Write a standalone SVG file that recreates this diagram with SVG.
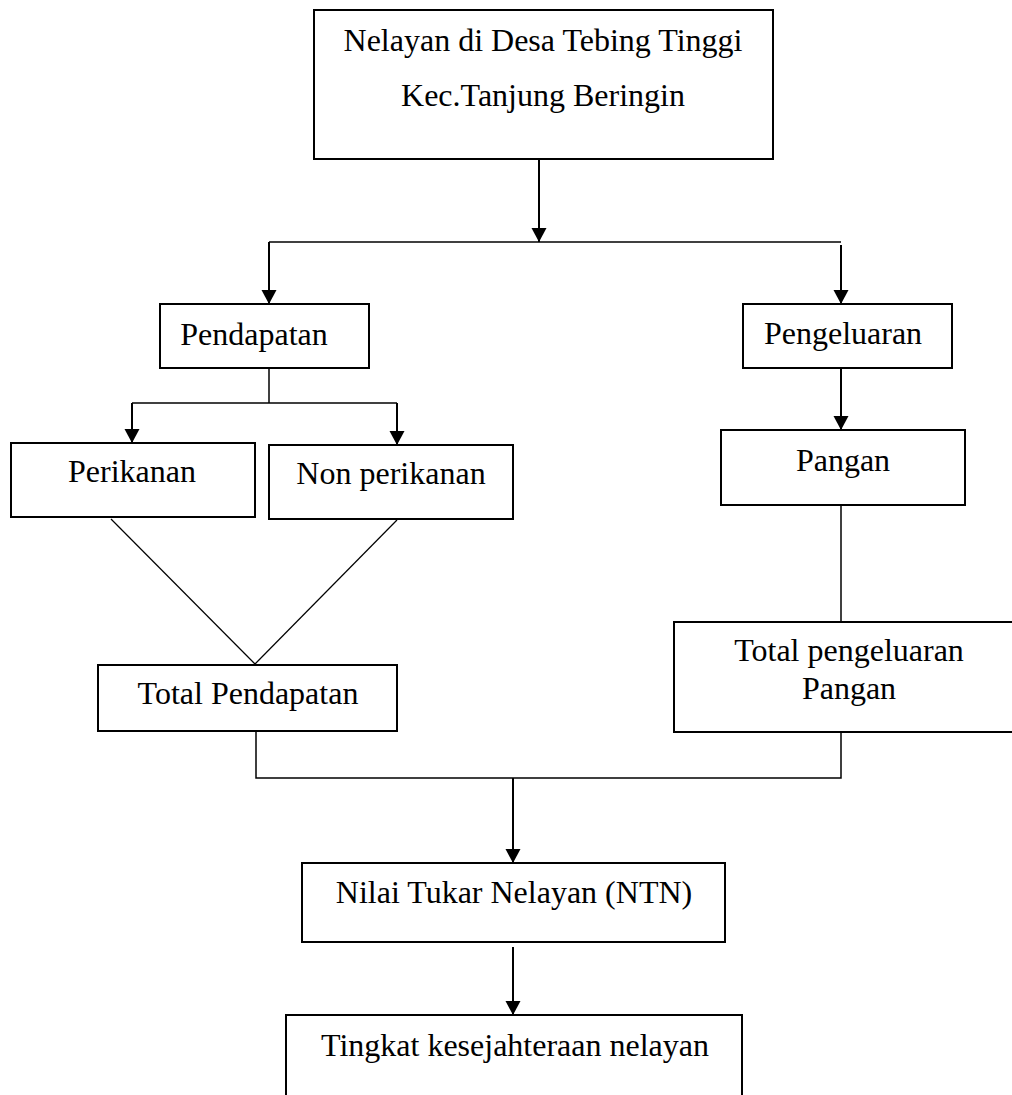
<svg xmlns="http://www.w3.org/2000/svg" width="1012" height="1095" viewBox="0 0 1012 1095">
<style>
.box{fill:#fff;stroke:#000;stroke-width:2}
.t{font-family:"Liberation Serif","Times New Roman",serif;font-size:32px;fill:#000;text-anchor:middle}
.c{fill:none;stroke:#000;stroke-width:1.5}
.a{fill:none;stroke:#000;stroke-width:2}
.d{fill:none;stroke:#000;stroke-width:1.2}
</style>
<defs>
<marker id="ar" markerUnits="userSpaceOnUse" markerWidth="16" markerHeight="16" viewBox="0 0 16 16" refX="14" refY="8" orient="auto">
<path d="M0,0.5 L14,8 L0,15.5 Z" fill="#000"/>
</marker>
</defs>
<rect width="1012" height="1095" fill="#fff"/>
<g id="connectors">
<line class="a" x1="539" y1="159" x2="539" y2="242" marker-end="url(#ar)"/>
<line class="c" x1="269" y1="242" x2="841" y2="242"/>
<line class="a" x1="269" y1="242" x2="269" y2="304" marker-end="url(#ar)"/>
<line class="a" x1="841" y1="245" x2="841" y2="304" marker-end="url(#ar)"/>
<line class="c" x1="269" y1="368" x2="269" y2="403"/>
<line class="c" x1="132" y1="403" x2="397" y2="403"/>
<line class="a" x1="132" y1="403" x2="132" y2="443" marker-end="url(#ar)"/>
<line class="a" x1="397" y1="403" x2="397" y2="445" marker-end="url(#ar)"/>
<line class="a" x1="841" y1="368" x2="841" y2="430" marker-end="url(#ar)"/>
<line class="c" x1="841" y1="505" x2="841" y2="622"/>
<line class="d" x1="111" y1="519" x2="255" y2="664"/>
<line class="d" x1="397" y1="520" x2="255" y2="664"/>
<polyline class="c" points="256,731 256,778 841,778 841,732"/>
<line class="a" x1="513" y1="778" x2="513" y2="863" marker-end="url(#ar)"/>
<line class="a" x1="513" y1="947" x2="513" y2="1015" marker-end="url(#ar)"/>
</g>
<g id="n-nelayan">
<rect class="box" x="314" y="10" width="459" height="149"/>
<text class="t" x="543" y="51">Nelayan di Desa Tebing Tinggi</text>
<text class="t" x="543" y="106">Kec.Tanjung Beringin</text>
</g>
<g id="n-pendapatan">
<rect class="box" x="160" y="304" width="209" height="64"/>
<text class="t" x="254" y="345">Pendapatan</text>
</g>
<g id="n-pengeluaran">
<rect class="box" x="743" y="304" width="209" height="64"/>
<text class="t" x="843" y="344">Pengeluaran</text>
</g>
<g id="n-perikanan">
<rect class="box" x="11" y="443" width="244" height="74"/>
<text class="t" x="132" y="482">Perikanan</text>
</g>
<g id="n-nonperikanan">
<rect class="box" x="269" y="445" width="244" height="74"/>
<text class="t" x="391" y="484">Non perikanan</text>
</g>
<g id="n-pangan">
<rect class="box" x="721" y="430" width="244" height="75"/>
<text class="t" x="843" y="471">Pangan</text>
</g>
<g id="n-totalpendapatan">
<rect class="box" x="98" y="665" width="299" height="66"/>
<text class="t" x="248" y="704">Total Pendapatan</text>
</g>
<g id="n-totalpengeluaran">
<rect class="box" x="674" y="622" width="350" height="110"/>
<text class="t" x="849" y="661">Total pengeluaran</text>
<text class="t" x="849" y="699">Pangan</text>
</g>
<g id="n-ntn">
<rect class="box" x="302" y="863" width="423" height="79"/>
<text class="t" x="514" y="903">Nilai Tukar Nelayan (NTN)</text>
</g>
<g id="n-tingkat">
<rect class="box" x="286" y="1015" width="456" height="100"/>
<text class="t" x="515" y="1056">Tingkat kesejahteraan nelayan</text>
</g>
</svg>
